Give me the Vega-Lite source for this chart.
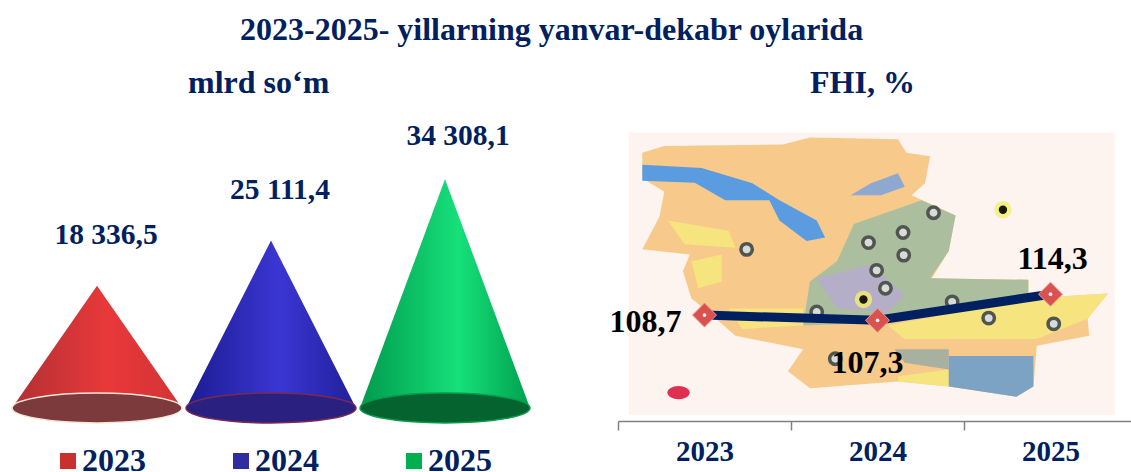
{"$schema":"https://vega.github.io/schema/vega-lite/v6.json","padding":{"top":14,"left":0,"right":0,"bottom":0},"autosize":{"type":"pad"},"background":"white","spacing":0,
"title":{"text":"2023-2025- yillarning yanvar-dekabr oylarida","font":"Liberation Serif","fontSize":32,"fontWeight":"bold","color":"#002060","anchor":"start","dx":240,"offset":20,"frame":"group"},
"config":{"view":{"stroke":null},"concat":{"spacing":0}},
"resolve":{"scale":{"fill":"independent","stroke":"independent"}},
"datasets":{
"cones":[{"year":"2023","pos":2022.5115,"value":0},{"year":"2023","pos":2023,"value":18336.5},{"year":"2023","pos":2023.4885,"value":0},{"year":"2024","pos":2023.5115,"value":0},{"year":"2024","pos":2024,"value":25111.4},{"year":"2024","pos":2024.4885,"value":0},{"year":"2025","pos":2024.5115,"value":0},{"year":"2025","pos":2025,"value":34308.1},{"year":"2025","pos":2025.4885,"value":0}],
"totals":[{"year":"2023","pos":2023,"value":18336.5,"label":"18 336,5"},{"year":"2024","pos":2024,"value":25111.4,"label":"25 111,4"},{"year":"2025","pos":2025,"value":34308.1,"label":"34 308,1"}],
"fhi":[{"year":"2023","value":108.7,"label":"108,7"},{"year":"2024","value":107.3,"label":"107,3"},{"year":"2025","value":114.3,"label":"114,3"}],
"map":[
{"type":"Feature","properties":{"region":"backdrop"},"geometry":{"type":"Polygon","coordinates":[[[85,40],[1520,40],[1520,875],[85,875],[85,40]]]}},
{"type":"Feature","properties":{"region":"land"},"geometry":{"type":"Polygon","coordinates":[[[125,100],[190,80],[540,75],[620,55],[880,60],[905,100],[975,110],[960,190],[920,225],[1050,285],[1030,390],[980,470],[1265,475],[1265,530],[1500,515],[1440,590],[1445,640],[1290,670],[1280,790],[1230,820],[1030,790],[880,775],[620,795],[555,745],[600,680],[400,640],[320,570],[270,530],[245,450],[265,400],[125,385],[175,290],[190,215],[125,175],[125,100]]]}},
{"type":"Feature","properties":{"region":"sage"},"geometry":{"type":"Polygon","coordinates":[[[750,310],[950,240],[1050,285],[1030,390],[975,470],[1265,475],[1265,520],[850,600],[600,610],[620,480],[700,420],[750,310]]]}},
{"type":"Feature","properties":{"region":"lilac"},"geometry":{"type":"Polygon","coordinates":[[[640,470],[800,430],[900,520],[850,570],[700,560],[640,470]]]}},
{"type":"Feature","properties":{"region":"lake"},"geometry":{"type":"Polygon","coordinates":[[[125,135],[300,145],[450,190],[530,240],[640,300],[665,350],[610,360],[530,300],[500,240],[370,240],[280,188],[125,182],[125,135]]]}},
{"type":"Feature","properties":{"region":"river"},"geometry":{"type":"Polygon","coordinates":[[[740,225],[800,190],[880,160],[900,200],[830,225],[740,225]]]}},
{"type":"Feature","properties":{"region":"yellow"},"geometry":{"type":"Polygon","coordinates":[[[270,420],[360,400],[360,480],[290,500],[270,420]]]}},
{"type":"Feature","properties":{"region":"yellow"},"geometry":{"type":"Polygon","coordinates":[[[200,300],[380,330],[400,380],[250,370],[200,300]]]}},
{"type":"Feature","properties":{"region":"yellow"},"geometry":{"type":"Polygon","coordinates":[[[850,610],[1265,530],[1500,515],[1440,590],[1290,650],[900,650],[850,610]]]}},
{"type":"Feature","properties":{"region":"yellow"},"geometry":{"type":"Polygon","coordinates":[[[380,560],[600,560],[600,610],[420,620],[380,560]]]}},
{"type":"Feature","properties":{"region":"yellow"},"geometry":{"type":"Polygon","coordinates":[[[880,760],[1030,740],[1030,790],[880,775],[880,760]]]}},
{"type":"Feature","properties":{"region":"grey"},"geometry":{"type":"Polygon","coordinates":[[[870,680],[1030,680],[1030,740],[900,720],[870,680]]]}},
{"type":"Feature","properties":{"region":"southblue"},"geometry":{"type":"Polygon","coordinates":[[[1030,700],[1280,700],[1280,790],[1230,820],[1030,790],[1030,700]]]}}
],
"sites":[{"u":433,"v":385},{"u":985,"v":277},{"u":895,"v":335},{"u":793,"v":365},{"u":897,"v":402},{"u":817,"v":447},{"u":843,"v":500},{"u":640,"v":570},{"u":1040,"v":540},{"u":1148,"v":588},{"u":1340,"v":605},{"u":695,"v":708}],
"capitals":[{"u":1190,"v":268},{"u":778,"v":533}],
"redspot":[{"u":232,"v":808}]
},
"hconcat":[
{"width":609,"height":317,
"title":{"text":"mlrd so‘m","font":"Liberation Serif","fontSize":32,"fontWeight":"bold","color":"#002060","anchor":"start","dx":188,"offset":4,"frame":"group"},
"layer":[
{"data":{"name":"cones"},"transform":[{"filter":"datum.year=='2023'"}],"mark":{"type":"area","color":{"gradient":"linear","x1":0,"x2":1,"y1":0,"y2":0,"stops":[{"offset":0,"color":"#b03033"},{"offset":0.55,"color":"#e8383a"},{"offset":1,"color":"#d43335"}]}},
"encoding":{"x":{"field":"pos","type":"quantitative","scale":{"domain":[2022.4425,2025.9425],"nice":false,"zero":false},"axis":null},"y":{"field":"value","type":"quantitative","scale":{"domain":[-1950,45600],"nice":false,"zero":false},"axis":null}}},
{"data":{"name":"cones"},"transform":[{"filter":"datum.year=='2024'"}],"mark":{"type":"area","color":{"gradient":"linear","x1":0,"x2":1,"y1":0,"y2":0,"stops":[{"offset":0,"color":"#1c1c90"},{"offset":0.55,"color":"#3a36d4"},{"offset":1,"color":"#20209a"}]}},
"encoding":{"x":{"field":"pos","type":"quantitative"},"y":{"field":"value","type":"quantitative"}}},
{"data":{"name":"cones"},"transform":[{"filter":"datum.year=='2025'"}],"mark":{"type":"area","color":{"gradient":"linear","x1":0,"x2":1,"y1":0,"y2":0,"stops":[{"offset":0,"color":"#009a4c"},{"offset":0.58,"color":"#16e07a"},{"offset":1,"color":"#00a04e"}]}},
"encoding":{"x":{"field":"pos","type":"quantitative"},"y":{"field":"value","type":"quantitative"}}},
{"data":{"name":"totals"},"mark":{"type":"point","filled":true,"opacity":1,"shape":"M-1,0A1,0.176 0 1 1 1,0A1,0.176 0 1 1 -1,0Z","size":28900,"strokeWidth":1.5},
"encoding":{"x":{"field":"pos","type":"quantitative"},"y":{"datum":0,"type":"quantitative"},
"fill":{"field":"year","type":"nominal","scale":{"domain":["2023","2024","2025"],"range":["#7c3a3d","#2a2080","#04632f"]},"legend":null},
"stroke":{"field":"year","type":"nominal","scale":{"domain":["2023","2024","2025"],"range":["#f3e6d8","#7a2a50","#0a9a4c"]},"legend":null}}},
{"data":{"name":"totals"},"mark":{"type":"point","size":0,"filled":true},
"encoding":{"x":{"field":"pos","type":"quantitative"},"y":{"field":"value","type":"quantitative"},
"color":{"field":"year","type":"nominal","scale":{"domain":["2023","2024","2025"],"range":["#c8312f","#2e2ea0","#00b050"]},
"legend":{"title":null,"orient":"none","legendX":52,"legendY":341,"direction":"horizontal","columns":3,"columnPadding":79,"gridAlign":"all","symbolType":"square","symbolSize":256,"symbolOpacity":1,"labelOffset":-2,"labelFont":"Liberation Serif","labelFontSize":32,"labelFontWeight":"bold","labelColor":"#002060"}}}},
{"data":{"name":"totals"},"transform":[{"filter":"datum.year!='2025'"}],"mark":{"type":"text","font":"Liberation Serif","fontSize":29.5,"fontWeight":"bold","color":"#002060","dx":9,"dy":-51,"baseline":"middle"},
"encoding":{"x":{"field":"pos","type":"quantitative"},"y":{"field":"value","type":"quantitative"},"text":{"field":"label"}}},
{"data":{"name":"totals"},"transform":[{"filter":"datum.year=='2025'"}],"mark":{"type":"text","font":"Liberation Serif","fontSize":29.5,"fontWeight":"bold","color":"#002060","dx":13,"dy":-43,"baseline":"middle"},
"encoding":{"x":{"field":"pos","type":"quantitative"},"y":{"field":"value","type":"quantitative"},"text":{"field":"label"}}}
]},
{"width":513,"height":317,
"title":{"text":"FHI, %","font":"Liberation Serif","fontSize":32,"fontWeight":"bold","color":"#002060","anchor":"start","dx":192,"offset":4,"frame":"group"},
"layer":[
{"data":{"name":"map"},"mark":{"type":"geoshape","strokeWidth":0},"projection":{"type":"identity","scale":0.3386,"translate":[-18,15]},
"encoding":{"fill":{"field":"properties.region","type":"nominal","legend":null,"scale":{"domain":["backdrop","land","sage","lilac","lake","river","yellow","grey","southblue"],"range":["#fdf3ef","#f7c98a","#abbf9f","#b5aec8","#5b9be0","#8fa8d0","#f6e47f","#a8b0a0","#7da3c4"]}}}},
{"data":{"name":"sites"},"mark":{"type":"point","filled":false,"fill":"#d8dcd8","stroke":"#50554f","strokeWidth":3.5,"size":130,"opacity":1},"projection":{"type":"identity","scale":0.3386,"translate":[-18,15]},
"encoding":{"longitude":{"field":"u","type":"quantitative"},"latitude":{"field":"v","type":"quantitative"}}},
{"data":{"name":"capitals"},"mark":{"type":"point","filled":true,"color":"#f5ee70","size":300,"opacity":0.8},"projection":{"type":"identity","scale":0.3386,"translate":[-18,15]},
"encoding":{"longitude":{"field":"u","type":"quantitative"},"latitude":{"field":"v","type":"quantitative"}}},
{"data":{"name":"capitals"},"mark":{"type":"point","filled":true,"color":"#1a1a00","size":70,"opacity":1},"projection":{"type":"identity","scale":0.3386,"translate":[-18,15]},
"encoding":{"longitude":{"field":"u","type":"quantitative"},"latitude":{"field":"v","type":"quantitative"}}},
{"data":{"name":"redspot"},"mark":{"type":"point","filled":true,"color":"#e0304f","size":500,"opacity":1,"shape":"M-1,0A1,0.6 0 1 1 1,0A1,0.6 0 1 1 -1,0Z"},"projection":{"type":"identity","scale":0.3386,"translate":[-18,15]},
"encoding":{"longitude":{"field":"u","type":"quantitative"},"latitude":{"field":"v","type":"quantitative"}}},
{"data":{"name":"fhi"},"mark":{"type":"line","color":"#002060","strokeWidth":9},
"encoding":{"x":{"field":"year","type":"ordinal","scale":{"domain":["2023","2024","2025"],"range":[0,519],"paddingInner":0,"paddingOuter":0},
"axis":{"title":null,"grid":false,"labelAngle":0,"tickBand":"extent","domainColor":"#808080","domainWidth":1.5,"tickColor":"#808080","tickWidth":1.5,"tickSize":9,"labelPadding":7,"labelFont":"Liberation Serif","labelFontSize":29,"labelFontWeight":"bold","labelColor":"#002060"}},
"y":{"field":"value","type":"quantitative","scale":{"domain":[80.3,165.3],"nice":false,"zero":false},"axis":null}}},
{"data":{"name":"fhi"},"mark":{"type":"point","filled":true,"shape":"diamond","size":576,"color":"#d9524f","stroke":"#e89a90","strokeWidth":1,"opacity":1},
"encoding":{"x":{"field":"year","type":"ordinal"},"y":{"field":"value","type":"quantitative"}}},
{"data":{"name":"fhi"},"mark":{"type":"point","filled":true,"size":14,"color":"#f5f0f0","opacity":1},
"encoding":{"x":{"field":"year","type":"ordinal"},"y":{"field":"value","type":"quantitative"}}},
{"data":{"name":"fhi"},"transform":[{"filter":"datum.year=='2023'"}],"mark":{"type":"text","font":"Liberation Serif","fontSize":32,"fontWeight":"bold","color":"#000000","dx":-59,"dy":7,"baseline":"middle"},
"encoding":{"x":{"field":"year","type":"ordinal"},"y":{"field":"value","type":"quantitative"},"text":{"field":"label"}}},
{"data":{"name":"fhi"},"transform":[{"filter":"datum.year=='2024'"}],"mark":{"type":"text","font":"Liberation Serif","fontSize":32,"fontWeight":"bold","color":"#000000","dx":-10,"dy":43,"baseline":"middle"},
"encoding":{"x":{"field":"year","type":"ordinal"},"y":{"field":"value","type":"quantitative"},"text":{"field":"label"}}},
{"data":{"name":"fhi"},"transform":[{"filter":"datum.year=='2025'"}],"mark":{"type":"text","font":"Liberation Serif","fontSize":32,"fontWeight":"bold","color":"#000000","dx":2,"dy":-35,"baseline":"middle"},
"encoding":{"x":{"field":"year","type":"ordinal"},"y":{"field":"value","type":"quantitative"},"text":{"field":"label"}}}
]}
]}
